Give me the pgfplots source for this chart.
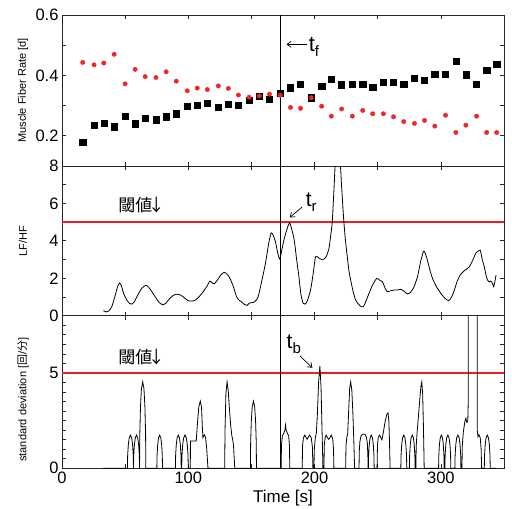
\documentclass[border=0pt]{standalone}
\usepackage{pgfplots}
\pgfplotsset{compat=1.18}
\usepackage{fontspec}
\setmainfont{Liberation Sans}
\newfontfamily\cjk{Noto Sans CJK JP}
\usetikzlibrary{arrows.meta}
\definecolor{thr}{RGB}{232,32,36}
\definecolor{dotred}{RGB}{238,40,40}
\pgfplotsset{
  base/.style={
    scale only axis, width=442bp,
    xmin=0, xmax=350,
    xtick={0,100,200,300}, minor xtick={50,150,250,350},
    tick align=inside,
    major tick length=4bp, minor tick length=4bp,
    axis line style={black!85, line width=0.8bp},
    every tick/.style={black!85, line width=0.7bp},
    tick label style={font=\fontsize{16.5bp}{18bp}\selectfont},
    /pgf/number format/assume math mode=true,
    ylabel style={font=\fontsize{11bp}{13bp}\selectfont, at={([xshift=-39bp]axis description cs:0,0.5)}, anchor=center},
  },
}
\begin{document}
\begin{tikzpicture}
\useasboundingbox (-62bp,-40.7bp) rectangle (450bp,468.3bp);
% ---------- top panel
\begin{axis}[base, at={(0,302.3bp)}, anchor=south west, height=151bp,
  ymin=0.1, ymax=0.6, ytick={0.2,0.4,0.6}, minor ytick={0.1,0.3,0.5},
  xticklabels={}, ylabel={Muscle Fiber Rate [d]}]
\addplot[only marks, mark=square*, mark size=3.1bp, black] coordinates {
(16.4,0.180)(25.4,0.236)(33.1,0.242)(41.3,0.230)(50.0,0.266)(57.9,0.240)(65.9,0.258)(74.4,0.253)(82.5,0.263)(90.5,0.273)(99.2,0.299)(107.1,0.302)(115.1,0.309)(123.8,0.296)(131.7,0.305)(139.7,0.302)(148.2,0.318)(156.3,0.330)(164.3,0.322)(172.8,0.342)(180.9,0.359)(188.9,0.372)(197.4,0.326)(205.6,0.364)(213.3,0.388)(221.4,0.369)(229.9,0.372)(238.1,0.372)(246.0,0.362)(254.5,0.378)(262.5,0.378)(270.6,0.372)(279.1,0.392)(287.1,0.385)(295.2,0.405)(303.7,0.405)(311.9,0.448)(319.8,0.402)(328.3,0.372)(336.3,0.418)(344.2,0.438)};
\addplot[only marks, mark=*, mark size=2.2bp, dotred, mark options={draw=dotred, fill=dotred}] coordinates {
(16.4,0.443)(25.4,0.435)(33.1,0.441)(41.3,0.470)(50.0,0.372)(57.9,0.420)(65.9,0.396)(74.4,0.393)(82.5,0.412)(90.5,0.381)(99.2,0.349)(107.1,0.358)(115.1,0.353)(123.8,0.365)(131.7,0.357)(139.7,0.335)(148.2,0.328)(156.3,0.332)(164.3,0.338)(172.8,0.334)(180.9,0.294)(188.9,0.291)(197.4,0.326)(205.6,0.298)(213.3,0.265)(221.4,0.289)(229.9,0.265)(238.1,0.284)(246.0,0.273)(254.5,0.273)(262.5,0.263)(270.6,0.247)(279.1,0.241)(287.1,0.251)(295.2,0.232)(303.7,0.268)(311.9,0.211)(319.8,0.235)(328.3,0.265)(336.3,0.211)(344.2,0.211)};
\addplot[black, line width=0.8bp] coordinates {(172.8,0.1)(172.8,0.6)};
\draw[line width=0.7bp, -{Straight Barb[length=4bp,width=6bp]}] (axis cs:194,0.503) -- (axis cs:177.8,0.503);
\node[anchor=base west, inner sep=0pt, font=\fontsize{22bp}{24bp}\selectfont] at (axis cs:195.3,0.478) {t\raisebox{-5bp}{\fontsize{15bp}{15bp}\selectfont f}};
\end{axis}
% ---------- middle panel
\begin{axis}[base, at={(0,152.6bp)}, anchor=south west, height=149.7bp,
  ymin=0, ymax=8, ytick={0,2,4,6,8}, minor ytick={1,3,5,7},
  xticklabels={}, ylabel={LF/HF}]
\addplot[thr, line width=2.4bp] coordinates {(0,5)(350,5)};
\addplot[black, line width=0.8bp, smooth, tension=0.4] coordinates {
(32.8,0.27)(35,0.2)(37,0.25)(39.4,0.48)(42,1.05)(44,1.55)(45.5,1.75)(47,1.6)(49,1.15)(51.3,0.84)(53.5,0.65)(55,0.62)(57,0.72)(60,1.1)(63,1.45)(66,1.62)(67.5,1.6)(70,1.4)(73.8,1.01)(77,0.7)(79.9,0.58)(82,0.65)(85,0.9)(88,1.08)(91,1.15)(94,1.1)(97,0.95)(100,0.8)(103,0.78)(106,0.85)(109,1.05)(112,1.3)(115,1.6)(117,1.85)(119,1.75)(120.5,1.7)(123,1.9)(126,2.2)(128.6,2.32)(131,2.2)(133.3,1.95)(136,1.5)(138,1.05)(140,0.84)(142,0.75)(144.5,0.6)(146.6,0.55)(148.5,0.68)(151.8,0.72)(154,0.85)(155.5,1.05)(158,1.8)(161.1,2.79)(163.5,3.8)(165.6,4.43)(167.2,4.3)(169,3.95)(171,3.3)(172.5,3.02)(174,3.5)(175.7,4.04)(178,4.6)(180.2,4.96)(182,4.6)(183.9,4.04)(185.8,3.0)(187.6,2.08)(189.3,1.1)(191,0.66)(192.6,0.62)(194.2,0.78)(196.8,1.37)(198.8,2.2)(200.8,3.15)(203.4,3.08)(205.5,3.0)(207.4,3.02)(209.5,3.2)(211.4,3.59)(212.8,4.3)(214,5.01)(215.4,6.8)(216.7,8.6)(218.3,9.8)(220,8.6)(221.5,6.8)(223.2,5.01)(224.5,4.0)(225.9,3.15)(227.2,2.4)(228.6,1.9)(230.5,1.3)(232.5,0.84)(235,0.6)(236.5,0.5)(238.6,0.48)(240.5,0.75)(243.1,1.19)(246,1.65)(249.2,1.99)(251.5,1.9)(253.7,1.82)(256,1.45)(257.7,1.28)(260,1.33)(263,1.37)(265.5,1.37)(268.3,1.41)(271,1.3)(273.6,1.16)(276,1.25)(278.5,1.5)(281.5,2.08)(284,2.9)(286.3,3.45)(287.5,3.35)(289.3,2.97)(291.5,2.4)(293.4,1.99)(296.5,1.55)(300,1.19)(303,0.95)(306.1,0.8)(308.5,1.0)(310.6,1.35)(313,1.85)(315.3,2.17)(318.5,2.4)(322.5,2.61)(325.5,3.0)(327.8,3.36)(329.5,3.45)(331.2,3.5)(332.8,3.0)(334.4,2.61)(336,2.1)(337,1.9)(338.5,1.8)(339.6,1.85)(341,1.7)(341.8,1.55)(343,1.9)(343.7,2.17)};
\addplot[black, line width=0.8bp] coordinates {(172.8,0)(172.8,8)};
\node[anchor=west, inner sep=0pt, font=\cjk\fontsize{17bp}{19bp}\selectfont] at (axis cs:44.4,5.9) {閾値\kern-4.5bp↓};
\draw[line width=0.7bp, -{Straight Barb[length=4bp,width=6bp]}] (axis cs:190.2,5.81) -- (axis cs:180.4,5.25);
\node[anchor=base west, inner sep=0pt, font=\fontsize{21bp}{23bp}\selectfont] at (axis cs:192.9,5.81) {t\raisebox{-5bp}{\fontsize{15bp}{15bp}\selectfont r}};
\end{axis}
% ---------- bottom panel
\begin{axis}[base, at={(0,0)}, anchor=south west, height=152.6bp,
  ymin=0, ymax=8, ytick={0,5}, minor ytick={0.5,1,1.5,2,2.5,3,3.5,4,4.5,5.5,6,6.5,7,7.5},
  xlabel={Time [s]},
  xlabel style={font=\fontsize{17bp}{19bp}\selectfont, at={([yshift=-29.4bp]axis description cs:0.5,0)}, anchor=center},
  ylabel={standard deviation [{\cjk 回}/{\cjk 分}]},
  ylabel style={at={([xshift=-39bp]axis description cs:0,0.45)}}]
\addplot[thr, line width=2.4bp] coordinates {(0,5)(350,5)};
\addplot[black, line width=0.8bp] coordinates {
(32.8,0)
(51.8,0)(51.99,0.68)(52.52,1.24)(53.24,1.60)(54.2,1.74)(55.16,1.60)(55.88,1.24)(56.41,0.68)(56.6,0)
(56.79,0.68)(57.32,1.24)(58.04,1.60)(59.0,1.74)(59.96,1.60)(60.68,1.24)(61.21,0.68)(61.4,0)
(61.6,1.77)(62.15,3.22)(62.9,4.17)(63.9,4.53)(64.9,4.17)(65.65,3.22)(66.2,1.77)(66.4,0)
(75.1,0)(75.28,0.68)(75.78,1.24)(76.45,1.60)(77.35,1.74)(78.25,1.60)(78.93,1.24)(79.42,0.68)(79.6,0)
(89.8,0)(89.98,0.68)(90.49,1.24)(91.18,1.60)(92.1,1.74)(93.02,1.60)(93.71,1.24)(94.22,0.68)(94.4,0)
(94.8,0)(95.01,0.68)(95.58,1.24)(96.36,1.60)(97.4,1.74)(98.44,1.60)(99.22,1.24)(99.79,0.68)(100,0)
(101.6,0)(101.7,1.43)(106.3,1.43)(107.3,2.4)(108.3,3.2)(109.5,3.52)(110.5,3.2)(111.1,2.2)(111.6,1.6)(112.2,1.7)(112.9,1.76)(113.7,1.6)(114.5,1.1)(115.2,0.4)(115.6,0)
(128.8,0)(129.1,2.0)(129.8,3.9)(130.7,4.53)(131.6,4.1)(132.5,3.2)(133.5,2.3)(134.5,1.7)(135.2,1.5)(135.8,1.2)(136.4,0.5)(136.8,0)
(149.2,0)(149.39,1.37)(149.92,2.50)(150.64,3.24)(151.6,3.52)(152.56,3.24)(153.28,2.50)(153.81,1.37)(154,0)
(173.5,0)(173.8,1.2)(174.5,1.7)(175.7,1.85)(176.5,2.0)(177,2.27)(177.5,2.0)(178.4,1.85)(179.5,1.7)(180.1,1.2)(180.4,0)
(190.2,0)(190.5,1.2)(191.2,1.6)(192.2,1.74)(193.3,1.62)(194.1,1.52)(194.9,1.62)(196,1.74)(197.4,1.6)(198.3,1.1)(198.7,0)
(199.5,0)(199.8,1.0)(200.6,1.6)(201.4,1.85)(202.2,2.8)(203.2,4.5)(204.2,5.36)(205.1,4.3)(205.8,2.3)(206.3,1.0)(206.6,0)
(207.4,0)(207.7,1.2)(208.3,1.6)(209.2,1.74)(210.3,1.6)(211.2,1.52)(212.1,1.6)(213.2,1.74)(214.4,1.55)(215.0,1.0)(215.3,0)
(224.6,0)(224.9,1.2)(225.6,1.65)(226.2,1.8)(227,3.0)(227.8,4.2)(228.6,4.53)(229.5,4.1)(230.4,2.8)(231.2,1.2)(231.7,0)
(235.2,0)(235.4,0.9)(235.9,1.4)(236.7,1.68)(237.8,1.78)(240,1.78)(241.0,1.65)(241.8,1.3)(242.2,0.7)(242.4,0)
(242.6,0)(242.78,0.68)(243.29,1.24)(243.98,1.60)(244.9,1.74)(245.82,1.60)(246.51,1.24)(247.02,0.68)(247.2,0)
(249.5,0)(249.8,1.2)(250.5,1.65)(251.5,1.74)(252.5,1.6)(253.3,1.5)(254.5,1.9)(256,2.5)(257.3,2.85)(258.2,2.91)(258.9,2.4)(259.4,1.2)(259.8,0)
(268.3,0)(268.49,0.68)(269.0,1.24)(269.71,1.60)(270.65,1.74)(271.59,1.60)(272.3,1.24)(272.81,0.68)(273,0)
(275.1,0)(275.28,0.68)(275.78,1.24)(276.45,1.60)(277.35,1.74)(278.25,1.60)(278.93,1.24)(279.42,0.68)(279.6,0)
(280.2,0)(280.5,1.2)(281.2,1.9)(282.2,2.7)(283.3,3.6)(284.2,4.3)(284.9,4.53)(285.6,3.9)(286.2,2.2)(286.6,0.8)(286.8,0)
(298.2,0)(298.38,0.68)(298.86,1.24)(299.52,1.60)(300.4,1.74)(301.28,1.60)(301.94,1.24)(302.42,0.68)(302.6,0)
(303.2,0)(303.39,0.68)(303.9,1.24)(304.61,1.60)(305.55,1.74)(306.49,1.60)(307.2,1.24)(307.71,0.68)(307.9,0)
(311.1,0)(311.29,0.68)(311.82,1.24)(312.54,1.60)(313.5,1.74)(314.46,1.60)(315.18,1.24)(315.71,0.68)(315.9,0)
(316.7,0)(317.0,1.2)(317.8,1.9)(319,2.45)(319.8,2.62)(320.6,2.4)(321.3,2.45)(321.7,3.5)(322.0,30)(328.6,30)(328.8,2.0)(329.4,1.65)(330.2,1.76)(331.2,1.6)(331.9,1.0)(332.3,0)
(334.4,0)(334.59,0.68)(335.1,1.24)(335.81,1.60)(336.75,1.74)(337.69,1.60)(338.4,1.24)(338.91,0.68)(339.1,0)
(343.7,0)};
\addplot[black, line width=0.8bp] coordinates {(172.8,0)(172.8,8)};
\node[anchor=west, inner sep=0pt, font=\cjk\fontsize{17bp}{19bp}\selectfont] at (axis cs:44.4,5.84) {閾値\kern-4.5bp↓};
\draw[line width=0.7bp, -{Straight Barb[length=4bp,width=6bp]}] (axis cs:188.3,5.90) -- (axis cs:198.2,5.27);
\node[anchor=base west, inner sep=0pt, font=\fontsize{21bp}{23bp}\selectfont] at (axis cs:177.8,6.28) {t\raisebox{-5bp}{\fontsize{15bp}{15bp}\selectfont b}};
\end{axis}
\end{tikzpicture}
\end{document}
